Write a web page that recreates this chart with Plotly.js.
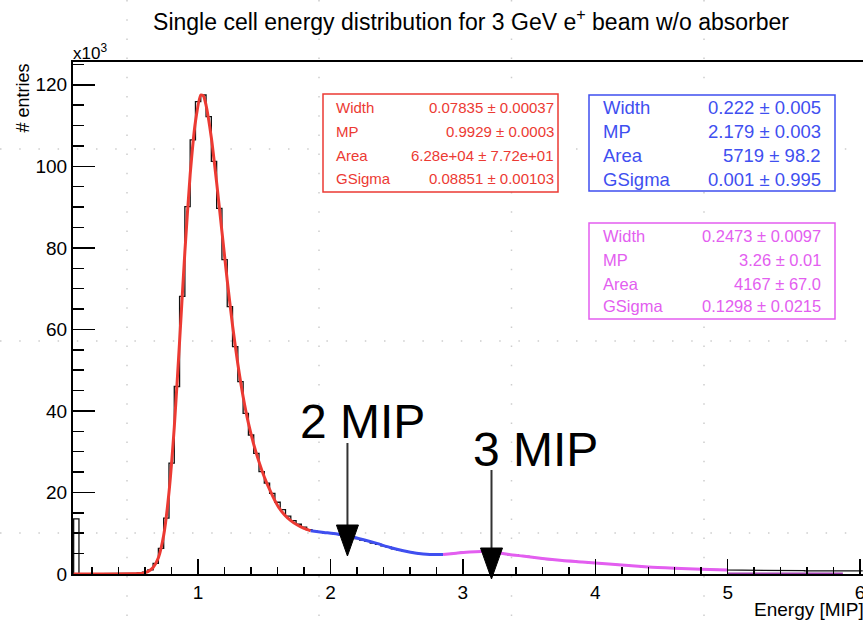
<!DOCTYPE html>
<html><head><meta charset="utf-8">
<script src="https://cdn.plot.ly/plotly-3.0.1.min.js"></script>
<style>html,body{margin:0;padding:0;background:#fff}#chart{width:863px;height:620px}</style>
</head><body><div id="chart"></div>
<script>
// ---------------- data ----------------
// histogram: bins of 0.04 MIP, first lower edge 0.06; counts in units of 10^3 entries
const binStart = 0.06;
const binWidth = 0.04;
const histCounts = [
  13.5, 0.02, 0.02, 0.03, 0.03, 0.03, 0.04, 0.05, 0.06, 0.08,
  0.12, 0.18, 0.25, 0.45, 1.0, 2.6, 6.3, 13.7, 27.2, 46.0,
  68.1, 90.1, 106.5, 115.9, 117.5, 112.2, 101.2, 89.7, 77.1, 65.6,
  55.8, 47.2, 39.4, 34.1, 29.6, 25.1, 22.3, 19.8, 17.6, 15.8,
  14.2, 13.1, 12.2, 11.5, 10.9, 10.5, 10.3, 10.1, 10.0, 9.8,
  9.6, 9.3, 9.0, 8.7, 8.3, 8.0, 7.6, 7.3, 6.9, 6.6,
  6.2, 5.9, 5.6, 5.4, 5.2, 5.0, 4.9, 4.8, 4.8, 4.8,
  4.9, 5.0, 5.1, 5.3, 5.4, 5.5, 5.5, 5.4, 5.3, 5.2,
  5.1, 4.9, 4.7, 4.6, 4.5, 4.3, 4.1, 3.9, 3.8, 3.6,
  3.5, 3.4, 3.3, 3.2, 3.1, 3.0, 2.9, 2.8, 2.7, 2.6,
  2.5, 2.4, 2.3, 2.2, 2.1, 2.0, 1.9, 1.8, 1.7, 1.65,
  1.6, 1.5, 1.45, 1.4, 1.35, 1.3, 1.25, 1.2, 1.15, 1.1,
  1.1, 1.05, 1.0, 1.0, 0.95, 0.95, 0.9, 0.9, 0.9, 0.9,
  0.88, 0.88, 0.85, 0.85, 0.85, 0.85, 0.82, 0.82, 0.8, 0.8,
  0.8, 0.8, 0.78, 0.78, 0.78, 0.76, 0.76, 0.75, 0.75
];

// fit 1 (1 MIP, red)
const redFitX = [0.06, 0.50, 0.58, 0.62, 0.66, 0.70, 0.74, 0.78, 0.82, 0.86, 0.90, 0.94, 0.98, 1.02, 1.04, 1.06, 1.10, 1.14, 1.18, 1.22, 1.26, 1.30, 1.34, 1.38, 1.42, 1.46, 1.50, 1.55, 1.60, 1.65, 1.70, 1.75, 1.80, 1.85];
const redFitY = [0.0, 0.05, 0.2, 0.6, 1.6, 4.0, 9.5, 20.0, 36.0, 57.0, 79.0, 98.0, 111.0, 117.5, 117.3, 115.0, 107.0, 96.0, 84.0, 72.0, 61.0, 51.5, 43.5, 37.0, 31.8, 27.5, 23.8, 20.0, 16.8, 14.6, 13.1, 12.0, 11.2, 10.6];
// fit 2 (2 MIP, blue)
const blueFitX = [1.85, 1.95, 2.05, 2.15, 2.25, 2.35, 2.45, 2.55, 2.65, 2.75, 2.85];
const blueFitY = [10.6, 10.2, 9.8, 9.2, 8.4, 7.5, 6.5, 5.7, 5.1, 4.8, 4.8];
// fit 3 (3 MIP, magenta)
const magentaFitX = [2.85, 2.95, 3.05, 3.15, 3.25, 3.35, 3.45, 3.60, 3.75, 3.90, 4.00, 4.20, 4.40, 4.60, 4.80, 5.00];
const magentaFitY = [4.8, 5.1, 5.4, 5.5, 5.3, 4.8, 4.4, 3.8, 3.3, 2.95, 2.7, 2.2, 1.7, 1.4, 1.15, 1.0];
const magentaTailX = [5.00, 5.87];
const magentaTailY = [0.0, 0.0];

// fit parameter boxes
const statLabels = ['Width', 'MP', 'Area', 'GSigma'];
const redStatValues = ['0.07835 \u00b1 0.00037', '0.9929 \u00b1 0.0003', '6.28e+04 \u00b1 7.72e+01', '0.08851 \u00b1 0.00103'];
const blueStatValues = ['0.222 \u00b1 0.005', '2.179 \u00b1 0.003', '5719 \u00b1 98.2', '0.001 \u00b1 0.995'];
const magentaStatValues = ['0.2473 \u00b1 0.0097', '3.26 \u00b1 0.01', '4167 \u00b1 67.0', '0.1298 \u00b1 0.0215'];

// MIP markers
const mipLabels = ['2 MIP', '3 MIP'];
const mipPositions = [2.128, 3.216];

const titleText = 'Single cell energy distribution for 3 GeV e<sup>+</sup> beam w/o absorber';
const xTitleText = 'Energy [MIP]';
const yTitleText = '# entries';
const yExponentText = 'x10<sup>3</sup>';

// ---------------- layout helpers ----------------
const W = 863, H = 620, ML = 73, MR = 0, MT = 62, MB = 46;
const PW = W - ML - MR, PH = H - MT - MB;
const px = X => (X - ML) / PW;
const py = Y => (H - MB - Y) / PH;
const FONT = 'Liberation Sans, Arial, Helvetica, sans-serif';

// histogram step outline built from bin edges
const histX = [binStart], histY = [0];
histCounts.forEach((c, i) => {
  const lo = binStart + i * binWidth, hi = lo + binWidth;
  histX.push(lo, hi); histY.push(c, c);
});

const RED = '#ec3a33', BLUE = '#3f4ff0', MAGENTA = '#e35ef0';

const traces = [
  {x: histX, y: histY, mode: 'lines', line: {color: '#111', width: 1.3, shape: 'linear'}, hoverinfo: 'skip'},
  {x: redFitX, y: redFitY, mode: 'lines', line: {color: RED, width: 3, shape: 'spline', smoothing: 0.6}},
  {x: blueFitX, y: blueFitY, mode: 'lines', line: {color: BLUE, width: 3, shape: 'spline', smoothing: 0.6}},
  {x: magentaFitX, y: magentaFitY, mode: 'lines', line: {color: MAGENTA, width: 3, shape: 'spline', smoothing: 0.6}},
  {x: magentaTailX, y: magentaTailY, mode: 'lines', line: {color: '#a040b0', width: 3}}
];

const annotations = [];
const shapes = [];

// faint dotted background grid of the slide
[127, 319, 511.5, 704].forEach(X => shapes.push({type: 'line', xref: 'paper', yref: 'paper', layer: 'below',
  x0: px(X), x1: px(X), y0: py(0), y1: py(620), line: {color: '#cdcdcd', width: 1.5, dash: '1.5px,17.7px'}}));
[149, 341, 533].forEach(Y => shapes.push({type: 'line', xref: 'paper', yref: 'paper', layer: 'below',
  x0: px(0), x1: px(863), y0: py(Y), y1: py(Y), line: {color: '#cdcdcd', width: 1.5, dash: '1.5px,17.7px'}}));

// stat boxes
const boxes = [
  {vals: redStatValues, color: RED, x0: 323, x1: 558, y0: 94, y1: 192, lx: 334, rx: 556, rows: [107.5, 131.5, 155.5, 178], size: 15},
  {vals: blueStatValues, color: BLUE, x0: 589, x1: 835, y0: 95, y1: 191, lx: 601, rx: 823, rows: [107.5, 131.5, 155.5, 179], size: 18.5},
  {vals: magentaStatValues, color: MAGENTA, x0: 589, x1: 835, y0: 223, y1: 319, lx: 601, rx: 823, rows: [235.5, 259.5, 283.5, 306], size: 16.5}
];
boxes.forEach(b => {
  shapes.push({type: 'rect', xref: 'paper', yref: 'paper', x0: px(b.x0), x1: px(b.x1), y0: py(b.y0), y1: py(b.y1),
    line: {color: b.color, width: 1.5}, fillcolor: 'rgba(255,255,255,1)', layer: 'above'});
  statLabels.forEach((lab, i) => {
    annotations.push({xref: 'paper', yref: 'paper', x: px(b.lx), y: py(b.rows[i]), xanchor: 'left', yanchor: 'middle',
      text: lab, showarrow: false, font: {family: FONT, size: b.size, color: b.color}});
    annotations.push({xref: 'paper', yref: 'paper', x: px(b.rx), y: py(b.rows[i]), xanchor: 'right', yanchor: 'middle',
      text: b.vals[i], showarrow: false, font: {family: FONT, size: b.size, color: b.color}});
  });
});

// MIP arrows
const arrowGeom = [
  {textX: 362, textY: 421, top: 131, headTop: 49, tip: 18},
  {textX: 535, textY: 449, top: 104, headTop: 26, tip: -5}
];
mipLabels.forEach((lab, i) => {
  const g = arrowGeom[i];
  annotations.push({xref: 'paper', yref: 'paper', x: px(g.textX), y: py(g.textY), xanchor: 'center', yanchor: 'middle',
    text: lab, showarrow: false, font: {family: FONT, size: 48, color: '#000'}});
  shapes.push({type: 'line', xref: 'x', yref: 'paper', xsizemode: 'pixel', ysizemode: 'pixel',
    xanchor: mipPositions[i], yanchor: 0, x0: 0, x1: 0, y0: g.top, y1: g.headTop, line: {color: '#333', width: 2}, layer: 'above'});
  shapes.push({type: 'path', xref: 'x', yref: 'paper', xsizemode: 'pixel', ysizemode: 'pixel',
    xanchor: mipPositions[i], yanchor: 0,
    path: `M-11,${g.headTop} L11,${g.headTop} L0,${g.tip} Z`, fillcolor: '#000', line: {color: '#000', width: 1}, layer: 'above'});
});

// axis decorations
annotations.push({xref: 'paper', yref: 'paper', x: px(71), y: py(52), xanchor: 'left', yanchor: 'middle',
  text: yExponentText, showarrow: false, font: {family: FONT, size: 17, color: '#000'}});
annotations.push({xref: 'paper', yref: 'paper', x: px(22), y: py(62), xanchor: 'center', yanchor: 'top', textangle: -90,
  text: yTitleText, showarrow: false, font: {family: FONT, size: 18, color: '#000'}});
annotations.push({xref: 'paper', yref: 'paper', x: px(866), y: py(609), xanchor: 'right', yanchor: 'middle',
  text: xTitleText, showarrow: false, font: {family: FONT, size: 19, color: '#000'}});

const layout = {
  width: W, height: H,
  margin: {l: ML, r: MR, t: MT, b: MB, pad: 0},
  paper_bgcolor: '#fff', plot_bgcolor: 'rgba(0,0,0,0)',
  showlegend: false,
  title: {text: titleText, x: 471 / W, xanchor: 'center', xref: 'container', y: 1 - 22 / H, yanchor: 'middle', yref: 'container',
    font: {family: FONT, size: 23, color: '#000'}},
  xaxis: {range: [0.055, 6.022], showgrid: false, zeroline: false, showline: true, linecolor: '#000', linewidth: 2, mirror: true,
    ticks: 'inside', ticklen: 15, tickwidth: 1.5, tickcolor: '#000', tick0: 0, dtick: 1, ticklabeloverflow: 'allow',
    minor: {dtick: 0.2, tick0: 0, ticks: 'inside', ticklen: 7, tickwidth: 1.5, tickcolor: '#000'},
    tickfont: {family: FONT, size: 19, color: '#000'}},
  yaxis: {range: [0, 125.6], showgrid: false, zeroline: false, showline: true, linecolor: '#000', linewidth: 2,
    ticks: 'inside', ticklen: 22, tickwidth: 1.5, tickcolor: '#000', tick0: 0, dtick: 20,
    minor: {dtick: 5, tick0: 0, ticks: 'inside', ticklen: 11, tickwidth: 1.5, tickcolor: '#000'},
    tickfont: {family: FONT, size: 19, color: '#000'}},
  shapes: shapes,
  annotations: annotations
};

Plotly.newPlot('chart', traces, layout, {displayModeBar: false, staticPlot: true});
</script></body></html>
